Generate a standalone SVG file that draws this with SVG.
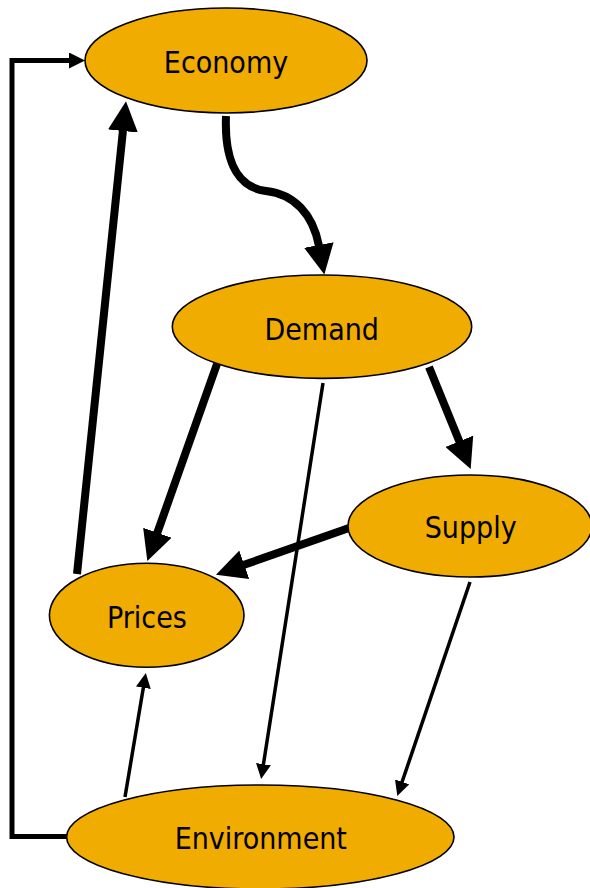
<svg xmlns="http://www.w3.org/2000/svg" width="590" height="888" viewBox="0 0 590 888">
  <style>
    .node ellipse { fill: #F0AC00; stroke: #000; stroke-width: 1.6; }
    .node text { font-family: "DejaVu Sans Condensed", "DejaVu Sans", sans-serif; font-stretch: condensed; font-size: 30px; fill: #000; text-anchor: middle; }
    .edge { fill: none; stroke: #000; }
    .thick { stroke-width: 8; marker-end: url(#headBig); }
    .thin { stroke-width: 3.5; marker-end: url(#headSmall); }
    .loop { stroke-width: 5; marker-end: url(#headLoop); }
  </style>
  <defs>
    <marker id="headBig" markerUnits="userSpaceOnUse" viewBox="0 0 30 30" markerWidth="30" markerHeight="30" refX="1" refY="15" orient="auto">
      <path d="M0,0 L30,15 L0,30 z" fill="#000"/>
    </marker>
    <marker id="headSmall" markerUnits="userSpaceOnUse" viewBox="0 0 15 15" markerWidth="15" markerHeight="15" refX="1" refY="7.5" orient="auto">
      <path d="M0,0 L15,7.5 L0,15 z" fill="#000"/>
    </marker>
    <marker id="headLoop" markerUnits="userSpaceOnUse" viewBox="0 0 16 16" markerWidth="16" markerHeight="16" refX="1" refY="8" orient="auto">
      <path d="M0,0 L16,8 L0,16 z" fill="#000"/>
    </marker>
  </defs>

  <g id="connectors">
    <!-- Environment back to Economy (outer loop) -->
    <path class="edge loop" d="M67,836.5 H12 V60.5 H70"/>
    <!-- Prices -> Economy -->
    <path class="edge thick" d="M77,574 L123,130"/>
    <!-- Economy -> Demand (curved) -->
    <path class="edge thick" d="M226,116 C224,168 242,188 266,191 C294,194 313,214 319,246"/>
    <!-- Demand -> Prices -->
    <path class="edge thick" d="M217,364 L157,533.7"/>
    <!-- Demand -> Supply -->
    <path class="edge thick" d="M429,367 L459.7,442.2"/>
    <!-- Supply -> Prices -->
    <path class="edge thick" d="M349,528 L243.3,565.1"/>
    <!-- Demand -> Environment -->
    <path class="edge thin" d="M323,383 L263.3,765.2"/>
    <!-- Supply -> Environment -->
    <path class="edge thin" d="M470,582 L401.8,782.8"/>
    <!-- Environment -> Prices -->
    <path class="edge thin" d="M125,797 L143.5,686.8"/>
  </g>

  <g id="economy" class="node">
    <ellipse cx="226" cy="60.5" rx="141" ry="52.5"/>
    <text x="226" y="73">Economy</text>
  </g>
  <g id="demand" class="node">
    <ellipse cx="322" cy="326.7" rx="149.7" ry="51.7"/>
    <text x="321.7" y="340">Demand</text>
  </g>
  <g id="supply" class="node">
    <ellipse cx="470" cy="526" rx="122" ry="51"/>
    <text x="470.7" y="538.3">Supply</text>
  </g>
  <g id="prices" class="node">
    <ellipse cx="146.7" cy="615.3" rx="97.3" ry="52"/>
    <text x="146.9" y="627.7">Prices</text>
  </g>
  <g id="environment" class="node">
    <ellipse cx="260.3" cy="837" rx="193.7" ry="52"/>
    <text x="260.8" y="849.3">Environment</text>
  </g>
</svg>
